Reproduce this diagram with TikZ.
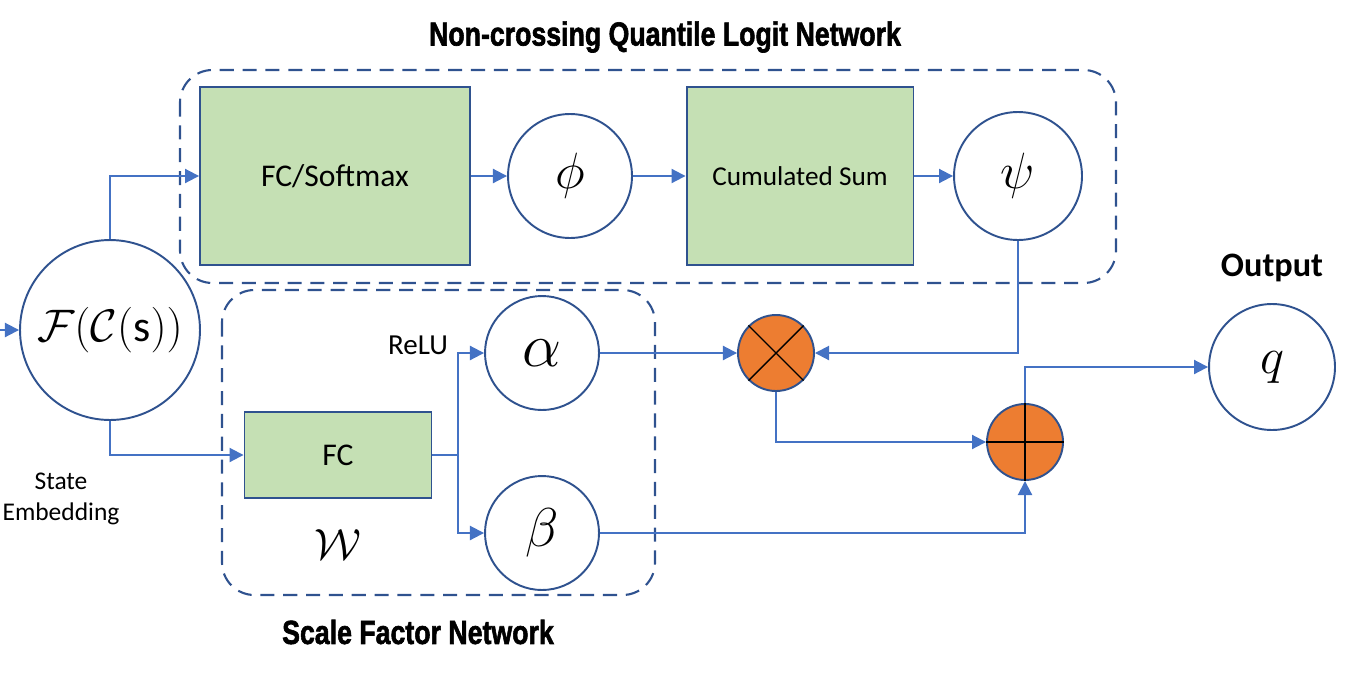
\documentclass[tikz,border=0pt]{standalone}
\usepackage{fontspec}
\usepackage{amsmath}
\setmainfont{Carlito}
\newfontfamily\titlefont[BoldFeatures={FakeBold=2}]{Liberation Sans}
\usetikzlibrary{arrows.meta}

\definecolor{lineblue}{HTML}{4472C4}
\definecolor{edgeblue}{HTML}{2F528F}
\definecolor{boxgreen}{HTML}{C5E0B4}
\definecolor{opfill}{HTML}{ED7D31}

\newcommand{\nettitle}[1]{\scalebox{0.8}[1]{\titlefont\bfseries\fontsize{19}{21}\selectfont #1}}
\newcommand{\bigsym}[2]{\scalebox{#1}{\fontsize{20}{22}\selectfont$#2$}}

\begin{document}
\begin{tikzpicture}[x=0.02cm,y=-0.02cm,
	wire/.style={draw=lineblue, line width=1.1pt, -{Triangle[length=8pt,width=8pt]}},
	link/.style={draw=lineblue, line width=1.1pt},
	layer/.style={draw=edgeblue, line width=1.1pt, fill=boxgreen, inner sep=0pt},
	unit/.style={circle, draw=edgeblue, line width=1.1pt, fill=white, inner sep=0pt},
	op/.style={circle, draw=edgeblue, line width=1.1pt, fill=opfill, minimum size=1.52cm, inner sep=0pt},
	group/.style={draw=edgeblue, line width=1.2pt, dash pattern=on 8pt off 5pt, rounded corners=0.65cm}]
	\useasboundingbox (0,0) rectangle (1368,690);

	\draw[group] (180,70) rectangle (1116,283);
	\draw[group] (222,290) rectangle (655,595);

	\node[unit, minimum size=3.6cm] (emb) at (110,330) {\bigsym{1.25}{\mathcal{F}(\mathcal{C}(\mathrm{s}))}};
	\node[layer, minimum width=5.4cm, minimum height=3.56cm] (soft) at (335,176) {\fontsize{18}{20}\selectfont FC/Softmax};
	\node[unit, minimum size=2.48cm] (phi) at (570,176) {\bigsym{1.4}{\phi}};
	\node[layer, minimum width=4.54cm, minimum height=3.56cm] (cum) at (800,176) {\fontsize{15.5}{18}\selectfont Cumulated Sum};
	\node[unit, minimum size=2.56cm] (psi) at (1018,176) {\bigsym{1.4}{\psi}};
	\node[layer, minimum width=3.74cm, minimum height=1.72cm] (fc) at (338,455) {\fontsize{18}{20}\selectfont FC};
	\node[unit, minimum size=2.28cm] (alpha) at (542,353) {\bigsym{1.7}{\alpha}};
	\node[unit, minimum size=2.28cm] (beta) at (542,533) {\bigsym{1.5}{\beta}};
	\node[op] (mult) at (776,353) {};
	\node[op] (plus) at (1025,442) {};
	\node[unit, minimum size=2.52cm] (out) at (1272,367) {\bigsym{1.4}{q}};

	\draw[line width=0.8pt] (mult.north west) -- (mult.south east) (mult.north east) -- (mult.south west);
	\draw[line width=0.8pt] (plus.north) -- (plus.south) (plus.west) -- (plus.east);

	\node (qtitle) at (665,37) {\nettitle{Non-crossing Quantile Logit Network}};
	\node (stitle) at (418,632) {\nettitle{Scale Factor Network}};
	\node[align=center, font=\fontsize{14.5}{17.5}\selectfont] (state) at (61,499) {State\\Embedding};
	\node[font=\fontsize{16.5}{18}\selectfont] (relu) at (418,345) {ReLU};
	\node[font=\bfseries\fontsize{19.5}{22}\selectfont] (outlabel) at (1272,268) {Output};
	\node (wlabel) at (338,545) {\bigsym{1.2}{\mathcal{W}}};

	\coordinate (in) at (0,330);
	\coordinate (split) at (458,455);

	\draw[wire] (in) -- (emb.west);
	\draw[wire] (emb.north) |- (soft.west);
	\draw[wire] (emb.south) |- (fc.west);
	\draw[wire] (soft) -- (phi);
	\draw[wire] (phi) -- (cum);
	\draw[wire] (cum) -- (psi);
	\draw[link] (fc.east) -- (split);
	\draw[wire] (split) |- (alpha.west);
	\draw[wire] (split) |- (beta.west);
	\draw[wire] (alpha) -- (mult);
	\draw[wire] (psi.south) |- (mult.east);
	\draw[wire] (mult.south) |- (plus.west);
	\draw[wire] (beta.east) -| (plus.south);
	\draw[wire] (plus.north) |- (out.west);
\end{tikzpicture}
\end{document}
